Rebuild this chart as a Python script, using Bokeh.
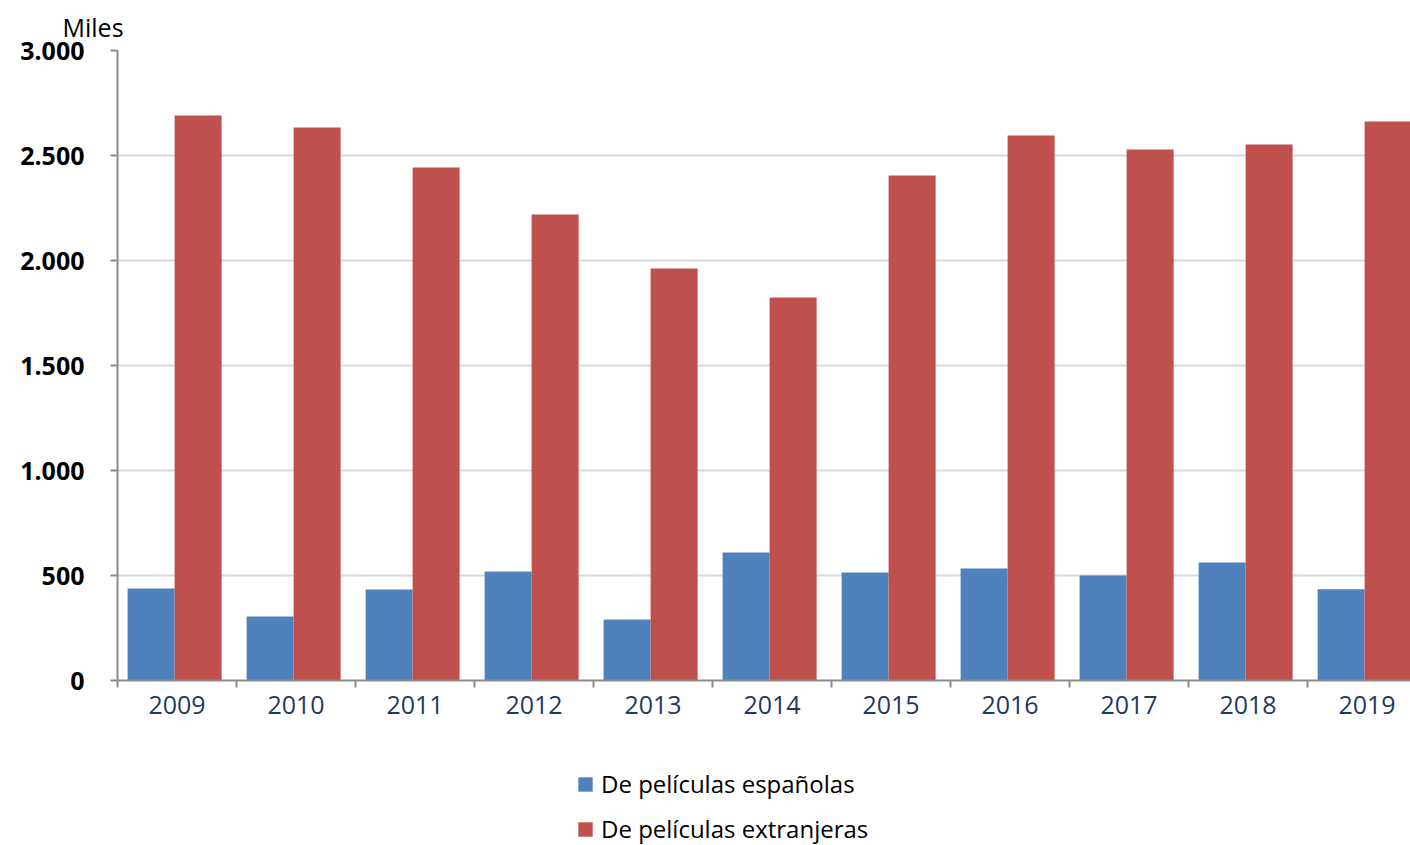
from bokeh.plotting import figure
from bokeh.layouts import column
from bokeh.models import FixedTicker, Legend, LegendItem, Range1d, ColumnDataSource
from bokeh.embed import file_html
from bokeh.resources import INLINE

years = ["2009", "2010", "2011", "2012", "2013", "2014", "2015", "2016", "2017", "2018", "2019"]
espanolas = [438, 305, 433, 519, 290, 610, 514, 533, 500, 562, 435]
extranjeras = [2690, 2633, 2443, 2219, 1962, 1824, 2405, 2595, 2529, 2552, 2662]
y_ticks = [0, 500, 1000, 1500, 2000, 2500, 3000]
y_tick_labels = ["0", "500", "1.000", "1.500", "2.000", "2.500", "3.000"]
series_names = ["De películas españolas", "De películas extranjeras"]
unit_label = "Miles"

BLUE = "#4F81BD"
RED = "#C0504D"
AXIS = "#8C8C8C"
FONT = "Open Sans"

idx = list(range(len(years)))
bw = 0.395
shift = -0.02
src = ColumnDataSource(dict(
    xb=[i + shift - bw / 2 for i in idx],
    xr=[i + shift + bw / 2 for i in idx],
    esp=espanolas,
    ext=extranjeras,
))

p = figure(width=1410, height=745, output_backend="svg", toolbar_location=None,
           x_range=Range1d(-0.5, -0.5 + 1293 / 119), y_range=Range1d(0, 3000),
           min_border_left=117, min_border_right=0, min_border_top=50, min_border_bottom=65)
p.outline_line_color = None
p.background_fill_color = "white"
p.border_fill_color = "white"

rb = p.vbar(x="xb", top="esp", width=bw, source=src, fill_color=BLUE, line_color=None)
rr = p.vbar(x="xr", top="ext", width=bw, source=src, fill_color=RED, line_color=None)

p.xgrid.grid_line_color = None
p.ygrid.grid_line_color = "#D9D9D9"
p.ygrid.grid_line_width = 2

# title used as unit label
p.title.text = unit_label
p.title.align = "left"
p.title.offset = -55
p.title.standoff = 14
p.title.text_font = FONT
p.title.text_font_size = "25px"
p.title.text_font_style = "normal"
p.title.text_color = "black"

# y axis
ya = p.yaxis[0]
ya.ticker = FixedTicker(ticks=y_ticks, minor_ticks=[])
ya.major_label_overrides = {t: l for t, l in zip(y_ticks, y_tick_labels)}
ya.major_label_text_font = FONT
ya.major_label_text_font_style = "bold"
ya.major_label_text_font_size = "25px"
ya.major_label_text_color = "black"
ya.major_label_standoff = 26
ya.axis_line_color = AXIS
ya.axis_line_width = 2
ya.major_tick_line_color = AXIS
ya.major_tick_line_width = 2
ya.major_tick_out = 7
ya.major_tick_in = 0
ya.minor_tick_line_color = None

# x axis
xa = p.xaxis[0]
xa.ticker = FixedTicker(ticks=idx, minor_ticks=[i - 0.5 for i in range(len(years) + 1)])
xa.major_label_overrides = {i: y for i, y in zip(idx, years)}
xa.major_label_text_font = FONT
xa.major_label_text_font_size = "25px"
xa.major_label_text_color = "#1F3864"
xa.major_label_standoff = 8
xa.axis_line_color = AXIS
xa.axis_line_width = 2
xa.major_tick_line_color = None
xa.minor_tick_line_color = AXIS
xa.minor_tick_line_width = 2
xa.minor_tick_out = 7
xa.minor_tick_in = 0

# legend figure (renderers hidden, only used for legend swatches)
p2 = figure(width=1410, height=100, output_backend="svg", toolbar_location=None,
            x_axis_location=None, y_axis_location=None,
            x_range=Range1d(-0.5, -0.5 + 1293 / 119), y_range=Range1d(0, 3000),
            min_border_left=117, min_border_right=0, min_border_top=0, min_border_bottom=0)
p2.outline_line_color = None
p2.grid.visible = False
p2.border_fill_color = "white"
lb = p2.vbar(x="xb", top="esp", width=bw, source=src, fill_color=BLUE, line_color=None, visible=False)
lr = p2.vbar(x="xr", top="ext", width=bw, source=src, fill_color=RED, line_color=None, visible=False)

legend = Legend(items=[LegendItem(label=series_names[0], renderers=[lb]),
                       LegendItem(label=series_names[1], renderers=[lr])],
                location=(459, 0), orientation="vertical",
                glyph_width=18, glyph_height=18, label_height=25, spacing=12,
                label_standoff=7, padding=0, margin=0,
                border_line_color=None, background_fill_alpha=0,
                inactive_fill_alpha=0,
                label_text_font=FONT, label_text_font_size="24px", label_text_color="black")
p2.add_layout(legend, "center")

layout = column(p, p2, spacing=0)
open("out.html", "w").write(file_html(layout, INLINE))
